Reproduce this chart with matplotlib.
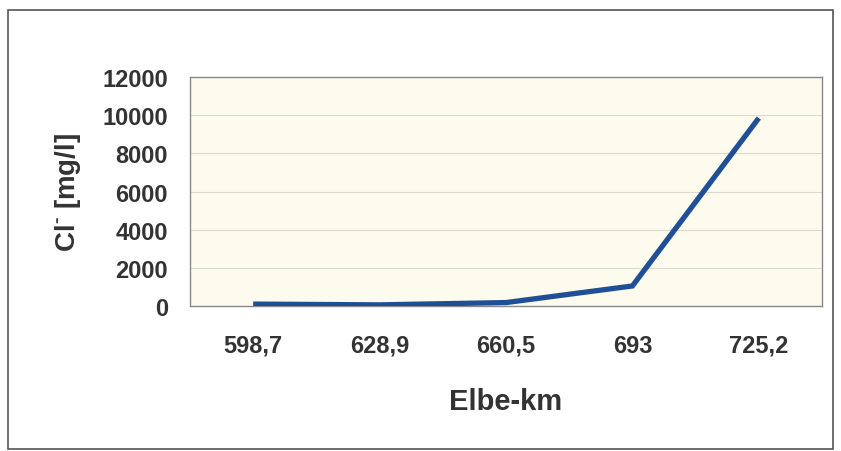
import matplotlib
matplotlib.use("Agg")
import matplotlib.pyplot as plt
from matplotlib.patches import Rectangle

# Chloride concentration along the Elbe
stations = ["598,7", "628,9", "660,5", "693", "725,2"]
chloride = [100, 60, 180, 1050, 9850]
y_ticks = [0, 2000, 4000, 6000, 8000, 10000, 12000]

plt.rcParams["font.family"] = ["Liberation Sans", "DejaVu Sans"]
plt.rcParams["mathtext.fontset"] = "custom"
plt.rcParams["mathtext.rm"] = "Liberation Sans:bold"
plt.rcParams["mathtext.bf"] = "Liberation Sans:bold"
text_color = "#333333"

fig = plt.figure(figsize=(8.41, 4.52), dpi=100)
fig.patch.set_facecolor("white")

# outer chart frame
fig.patches.append(Rectangle((8 / 841, 2 / 452), 825 / 841, 439 / 452,
                             transform=fig.transFigure, fill=False,
                             edgecolor="#555555", linewidth=1.2))

ax = fig.add_axes([190 / 841, 1 - 307 / 452, 632 / 841, 229 / 452])
ax.set_facecolor("#fdfbee")

x = list(range(len(stations)))
ax.plot(x, chloride, color="#1f4f96", linewidth=3.8, solid_capstyle="butt",
        solid_joinstyle="miter", zorder=3)

ax.set_xlim(-0.5, len(stations) - 0.5)
ax.set_ylim(0, 12000)
ax.set_yticks(y_ticks)
ax.set_yticklabels([str(v) for v in y_ticks])
ax.set_xticks(x)
ax.set_xticklabels(stations)

ax.grid(axis="y", color="#dcdad0", linewidth=0.8)
ax.set_axisbelow(True)
for s in ax.spines.values():
    s.set_color("#8a8a8a")
    s.set_linewidth(1.0)

ax.tick_params(axis="both", length=0, colors=text_color, labelsize=17)
ax.tick_params(axis="y", pad=16)
ax.tick_params(axis="x", pad=33)
for lab in ax.get_xticklabels() + ax.get_yticklabels():
    lab.set_fontweight("bold")
for lab in ax.get_xticklabels():
    lab.set_verticalalignment("baseline")

ax.set_ylabel(r"Cl$^{\text{-}}$ [mg/l]", fontsize=20, fontweight="bold",
              color=text_color, labelpad=14)
ax.set_xlabel("Elbe-km", fontsize=21, fontweight="bold", color=text_color,
              labelpad=22)

fig.savefig("out.png", dpi=100, facecolor="white")
